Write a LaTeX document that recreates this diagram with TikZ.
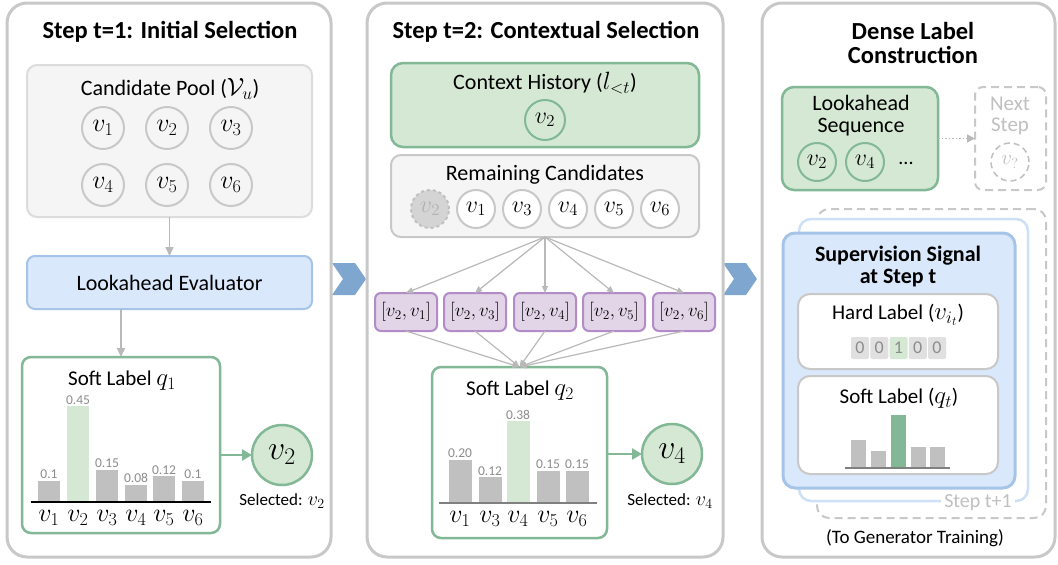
\RequirePackage{fix-cm}
\documentclass[tikz,border=0pt]{standalone}
\usepackage{fontspec}
\setmainfont{Carlito}
\usetikzlibrary{arrows.meta}
\definecolor{panelgray}{RGB}{200,200,200}
\definecolor{poolfill}{RGB}{245,245,245}
\definecolor{poolline}{RGB}{220,220,220}
\definecolor{greenfill}{RGB}{213,232,212}
\definecolor{greenline}{RGB}{130,184,150}
\definecolor{bluefill}{RGB}{218,232,252}
\definecolor{blueline}{RGB}{166,196,232}
\definecolor{lightblueline}{RGB}{205,224,245}
\definecolor{purplefill}{RGB}{225,213,231}
\definecolor{purpleline}{RGB}{178,140,198}
\definecolor{bargray}{RGB}{192,192,192}
\definecolor{arrowgray}{RGB}{185,185,185}
\definecolor{chev}{RGB}{127,166,206}
\definecolor{labgray}{RGB}{140,140,140}
\definecolor{ghostgray}{RGB}{192,192,192}
\definecolor{ghostfill}{RGB}{212,212,212}
\definecolor{ghosttext}{RGB}{178,178,178}
\definecolor{digitfill}{RGB}{224,224,224}
\definecolor{axisgray}{RGB}{128,128,128}
\newcommand{\fsz}[1]{\fontsize{#1}{#1}\selectfont}
\newcommand{\mathat}[2]{{\fontsize{#1}{#1}\selectfont$#2$}}
\tikzset{
  panel/.style={draw=panelgray, line width=3pt, rounded corners=20pt, fill=white},
  poolbox/.style={draw=poolline, fill=poolfill, line width=2pt, rounded corners=10pt},
  greybox/.style={draw=panelgray, fill=poolfill, line width=2pt, rounded corners=10pt},
  greenbox/.style={draw=greenline, fill=greenfill, line width=2.5pt, rounded corners=12pt},
  softbox/.style={draw=greenline, fill=white, line width=2.5pt, rounded corners=9pt},
  bluebox/.style={draw=blueline, fill=bluefill, line width=2pt, rounded corners=8pt},
  pairbox/.style={draw=purpleline, fill=purplefill, line width=2pt, rounded corners=6pt, minimum width=62pt, minimum height=38pt, font=\fsz{19}},
  whitebox/.style={draw=panelgray, fill=white, line width=2pt, rounded corners=12pt},
  dashbox/.style={draw=panelgray, dashed, dash pattern=on 8pt off 5pt, line width=2pt, rounded corners=8pt},
  cand/.style={circle, draw=panelgray, fill=poolfill, line width=2pt, minimum size=42pt, font=\fsz{26}},
  smallcand/.style={circle, draw=panelgray, fill=white, line width=2pt, minimum size=38pt, font=\fsz{24}},
  gcirc/.style={circle, draw=greenline, fill=greenfill, line width=2pt, minimum size=40pt, font=\fsz{24}},
  selcirc/.style={circle, draw=greenline, fill=greenfill, line width=2.5pt, minimum size=60pt, font=\fsz{34}},
  title/.style={font=\fsz{24.5}\bfseries, align=center},
  body/.style={font=\fsz{22}, align=center},
  vallab/.style={font=\fsz{13.5}, text=labgray, anchor=south, yshift=2pt},
  axlab/.style={font=\fsz{26}},
  selt/.style={font=\fsz{17}},
  garrow/.style={draw=arrowgray, line width=1.5pt, -{Triangle[length=9pt,width=8pt]}},
  thinarrow/.style={draw=arrowgray, line width=1.2pt, -{Triangle[length=7pt,width=6pt]}},
  grarrow/.style={draw=greenline, line width=2.5pt, -{Triangle[length=10pt,width=11pt]}},
  digit/.style={fill=digitfill, rounded corners=2pt, minimum width=18pt, minimum height=22pt, font=\fsz{18}, text=labgray},
}
\begin{document}
\begin{tikzpicture}[x=1pt,y=-1pt, every node/.append style={inner sep=0pt, outer sep=0pt}]
\useasboundingbox (0,0) rectangle (1058,565);

% ---------- chevrons ----------
\fill[chev] (332,263) -- (355,263) -- (366,279) -- (355,295) -- (332,295) -- (343,279) -- cycle;
\fill[chev] (723,263) -- (746,263) -- (757,279) -- (746,295) -- (723,295) -- (734,279) -- cycle;

% ---------- panels ----------
\node[panel, minimum width=324pt, minimum height=554pt] (p1) at (169,280) {};
\node[panel, minimum width=356pt, minimum height=554pt] (p2) at (545,280) {};
\node[panel, minimum width=293pt, minimum height=554pt] (p3) at (908.5,280) {};

% ================= Panel 1 =================
\node[title] (t1) at (170,32) {Step t=1: Initial Selection};
\node[poolbox, minimum width=285pt, minimum height=152pt] (pool) at (169.5,141) {};
\node[body] (poolt) at (170,89) {Candidate Pool (\mathat{25}{\mathcal{V}_u})};
\node[cand] (c1) at (103,128) {$v_1$};
\node[cand] (c2) at (167,128) {$v_2$};
\node[cand] (c3) at (231,128) {$v_3$};
\node[cand] (c4) at (103,185) {$v_4$};
\node[cand] (c5) at (167,185) {$v_5$};
\node[cand] (c6) at (231,185) {$v_6$};

\node[bluebox, minimum width=285pt, minimum height=53pt] (eval) at (169.5,282.5) {};
\node[body] (evalt) at (169.5,283) {Lookahead Evaluator};
\draw[garrow] (pool.south) -- (eval.north);

\node[softbox, minimum width=198pt, minimum height=176pt] (q1) at (121,445) {};
\draw[garrow] (eval.south -| q1.north) -- (q1.north);
\node[font=\fsz{21}] (q1t) at (122,381) {Soft Label \mathat{25}{q_1}};
\foreach \x/\h/\lab/\c/\n in {49/0.1/0.1/bargray/1, 78/0.45/0.45/greenfill/2, 107/0.15/0.15/bargray/3, 136/0.08/0.08/bargray/4, 164/0.12/0.12/bargray/5, 193/0.1/0.1/bargray/6}{
  \fill[\c] ({\x-11},502) rectangle ({\x+11},{502-\h*213});
  \node[vallab] (qa\n) at (\x,{502-\h*213}) {\lab};
  \node[axlab] (qx\n) at (\x,518) {$v_{\n}$};
}
\coordinate (ax1a) at (31,502);
\coordinate (ax1b) at (211,502);
\draw[line width=2pt] (ax1a) -- (ax1b);

\node[selcirc] (s1) at (282,455) {$v_2$};
\draw[grarrow] (q1.east |- s1.west) -- (s1.west);
\node[selt] (s1t) at (282,501) {Selected: \mathat{20}{v_2}};

% ================= Panel 2 =================
\node[title] (t2) at (546,32) {Step t=2: Contextual Selection};
\node[greenbox, minimum width=308pt, minimum height=84pt] (ctx) at (545,105) {};
\node[body] (ctxt) at (545,83) {Context History (\mathat{25}{l_{<t}})};
\node[gcirc] (h2) at (545,120) {$v_2$};

\node[greybox, minimum width=308pt, minimum height=82pt] (rem) at (545,196) {};
\node[body] (remt) at (545,175) {Remaining Candidates};
\node[smallcand, fill=ghostfill, draw=ghostgray, dashed, text=ghosttext] (r0) at (430,209) {$v_2$};
\node[smallcand] (r1) at (476,209) {$v_1$};
\node[smallcand] (r3) at (522,209) {$v_3$};
\node[smallcand] (r4) at (568,209) {$v_4$};
\node[smallcand] (r5) at (614,209) {$v_5$};
\node[smallcand] (r6) at (660,209) {$v_6$};

\node[pairbox] (pa1) at (406,312) {$[v_2,v_1]$};
\node[pairbox] (pa3) at (475,312) {$[v_2,v_3]$};
\node[pairbox] (pa4) at (545,312) {$[v_2,v_4]$};
\node[pairbox] (pa5) at (614,312) {$[v_2,v_5]$};
\node[pairbox] (pa6) at (684,312) {$[v_2,v_6]$};
\foreach \n in {1,3,4,5,6}{\draw[thinarrow] (rem.south) -- (pa\n.north);}

\node[softbox, minimum width=175pt, minimum height=171pt] (q2) at (519.5,452.5) {};
\foreach \n in {1,3,4,5,6}{\draw[thinarrow] (pa\n.south) -- (q2.north);}
\node[font=\fsz{21}] (q2t) at (520,391) {Soft Label \mathat{25}{q_2}};
\foreach \x/\h/\lab/\c/\n in {460/0.20/0.20/bargray/1, 490/0.12/0.12/bargray/3, 518/0.38/0.38/greenfill/4, 548/0.15/0.15/bargray/5, 577/0.15/0.15/bargray/6}{
  \fill[\c] ({\x-11.5},503) rectangle ({\x+11.5},{503-\h*215});
  \node[vallab] (qb\n) at (\x,{503-\h*215}) {\lab};
  \node[axlab] (qy\n) at (\x,519) {$v_{\n}$};
}
\coordinate (ax2a) at (439,503);
\coordinate (ax2b) at (597,503);
\draw[line width=1.5pt, axisgray] (ax2a) -- (ax2b);

\node[selcirc] (s2) at (672,454) {$v_4$};
\draw[grarrow] (q2.east |- s2.west) -- (s2.west);
\node[selt] (s2t) at (670,501) {Selected: \mathat{20}{v_4}};

% ================= Panel 3 =================
\node[title] (t3) at (913,43) {Dense Label\\Construction};
\node[greenbox, minimum width=156pt, minimum height=103pt] (look) at (860,138.5) {};
\node[body, font=\fsz{22}] (lookt) at (861,116) {Lookahead\\Sequence};
\node[gcirc, minimum size=38pt] (l2) at (817,162) {$v_2$};
\node[gcirc, minimum size=38pt] (l4) at (865,162) {$v_4$};
\node[font=\fsz{20}] (ldots) at (906,163) {...};

\node[dashbox, minimum width=71pt, minimum height=103pt] (next) at (1010.5,138.5) {};
\node[body, text=ghostgray, font=\fsz{21}] (nextt) at (1010,116) {Next\\Step};
\node[circle, draw=ghostgray, dashed, dash pattern=on 6pt off 4pt, line width=1.5pt, minimum size=38pt, text=ghostgray, font=\fsz{21}] (nq) at (1010,162) {$v_?$};
\draw[draw=arrowgray, line width=1.5pt, dotted, -{Triangle[length=8pt,width=8pt]}] (look.east) -- (next.west);

% stacked cards
\node[dashbox, rounded corners=12pt, minimum width=229pt, minimum height=309pt] (card3) at (931.5,363.5) {};
\node[draw=lightblueline, fill=white, line width=2.5pt, rounded corners=12pt, minimum width=229pt, minimum height=282pt] (card2) at (913.5,360) {};
\node[fill=white, text=ghostgray, font=\fsz{20}, inner xsep=3pt, inner ysep=2pt] (stp) at (978,503) {Step t+1};
\node[draw=blueline, fill=bluefill, line width=3pt, rounded corners=12pt, minimum width=232pt, minimum height=255pt] (card1) at (899,360.5) {};
\node[font=\fsz{22}\bfseries, align=center] (sup) at (898,267) {Supervision Signal\\at Step t};

\node[whitebox, minimum width=200pt, minimum height=75pt] (hard) at (898,331.5) {};
\node[font=\fsz{21}] (hardt) at (898,315) {Hard Label (\mathat{25}{v_{i_t}})};
\node[digit] (d1) at (860,348) {0};
\node[digit] (d2) at (879.25,348) {0};
\node[digit, fill=greenfill] (d3) at (898.5,348) {1};
\node[digit] (d4) at (917.75,348) {0};
\node[digit] (d5) at (937,348) {0};

\node[whitebox, minimum width=200pt, minimum height=98pt] (soft) at (898,425) {};
\node[font=\fsz{21}] (softt) at (899,398) {Soft Label (\mathat{25}{q_t})};
\foreach \x/\h/\c in {858.5/28/bargray, 878.5/17/bargray, 898.5/53/greenline, 918.5/21/bargray, 937.5/21/bargray}{
  \fill[\c] ({\x-7.5},468) rectangle ({\x+7.5},{468-\h});
}
\coordinate (ax3a) at (845,468);
\coordinate (ax3b) at (950,468);
\draw[line width=1.5pt, axisgray] (ax3a) -- (ax3b);

\node[font=\fsz{19}] (gen) at (915,538) {(To Generator Training)};
\end{tikzpicture}
\end{document}
